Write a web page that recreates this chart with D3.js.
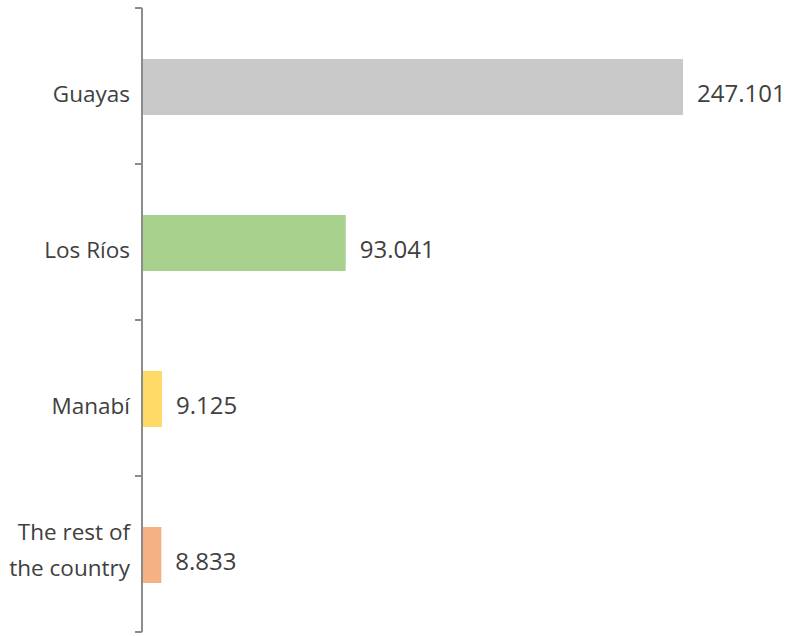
<!DOCTYPE html>
<html>
<head>
<meta charset="utf-8">
<script src="https://cdn.jsdelivr.net/npm/d3@7"></script>
<style>
  body { margin: 0; background: #fff; }
  svg { display: block; }
  text { font-family: "Open Sans", "Noto Sans", sans-serif; fill: #404040; }
</style>
</head>
<body>
<svg id="chart" width="786" height="636"></svg>
<script>
// Production by province (thousands of tonnes)
const categories = ["Guayas", "Los Ríos", "Manabí", "The rest of the country"];
const categoryLines = [["Guayas"], ["Los Ríos"], ["Manabí"], ["The rest of", "the country"]];
const values = [247.101, 93.041, 9.125, 8.833];
const valueLabels = ["247.101", "93.041", "9.125", "8.833"];
const colors = ["#c9c9c9", "#a9d18e", "#ffd966", "#f4b183"];

const svg = d3.select("#chart");
const axisX = 142;
const plotTop = 8, plotBottom = 632;

const y = d3.scaleBand()
  .domain(categories)
  .range([plotTop + 1, plotBottom + 1])
  .paddingInner(100 / 156)
  .paddingOuter(50 / 156);

const x = d3.scaleLinear()
  .domain([0, values[0]])
  .range([axisX, 683]);

// bars
svg.append("g").selectAll("rect")
  .data(categories)
  .join("rect")
  .attr("x", x(0))
  .attr("y", d => y(d))
  .attr("width", (d, i) => x(values[i]) - x(0))
  .attr("height", y.bandwidth())
  .attr("fill", (d, i) => colors[i]);

// axis line and boundary ticks
const axis = svg.append("g").attr("stroke", "#8c8c8c").attr("stroke-width", 2);
axis.append("line")
  .attr("x1", axisX).attr("x2", axisX)
  .attr("y1", plotTop).attr("y2", plotBottom);
const boundaries = d3.range(categories.length + 1).map(i => plotTop + i * y.step());
axis.selectAll("line.tick")
  .data(boundaries)
  .join("line")
  .attr("class", "tick")
  .attr("x1", axisX - 7).attr("x2", axisX)
  .attr("y1", d => d).attr("y2", d => d);

// category labels
const catFs = 22.5;
const lineH = 36;
svg.append("g").selectAll("text")
  .data(categories)
  .join("text")
  .attr("text-anchor", "end")
  .attr("font-size", catFs)
  .each(function(d, i) {
    const lines = categoryLines[i];
    const cy = y(d) + y.bandwidth() / 2;
    const t = d3.select(this);
    lines.forEach((ln, k) => {
      t.append("tspan")
        .attr("x", 130)
        .attr("y", cy + 15 + (k - (lines.length - 1) / 2) * lineH - (lines.length - 1) * 12)
        .text(ln);
    });
  });

// value labels
svg.append("g").selectAll("text")
  .data(categories)
  .join("text")
  .attr("x", (d, i) => x(values[i]) + 14)
  .attr("y", d => y(d) + y.bandwidth() / 2 + 15)
  .attr("font-size", 24)
  .text((d, i) => valueLabels[i]);
</script>
</body>
</html>
